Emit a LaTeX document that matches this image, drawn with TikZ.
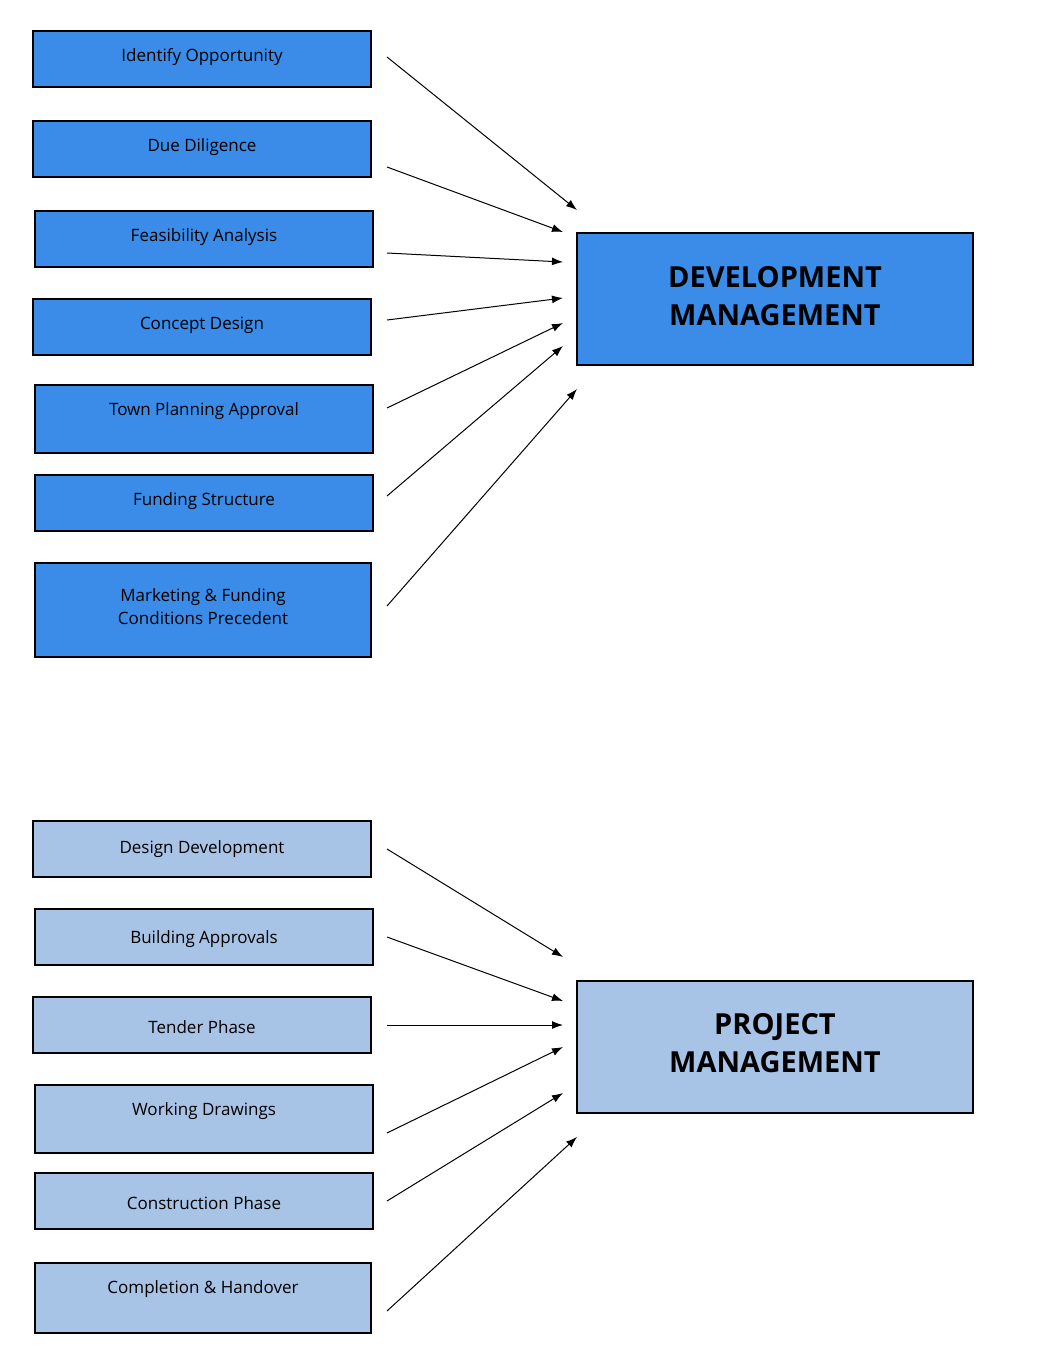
\documentclass[tikz,border=0pt]{standalone}
\usepackage{fontspec}
\setmainfont{Open Sans}
\usetikzlibrary{arrows.meta}
\definecolor{dk}{HTML}{3B8BE8}
\definecolor{lt}{HTML}{A7C3E6}
\tikzset{
 box/.style={draw=black,line width=1.2pt,inner sep=0pt},
 lab/.style={font=\fontsize{17}{23}\selectfont,align=center},
 big/.style={font=\bfseries\fontsize{29}{38}\selectfont,align=center},
 arr/.style={-{Latex[length=11pt,width=8pt]},line width=1pt}
}
\begin{document}
\begin{tikzpicture}[x=1pt,y=-1pt]
\useasboundingbox (0,0) rectangle (1062,1358);
\newcommand{\bx}[7]{\node[box,fill=#6,minimum width=#3-#2,minimum height=#5-#4] (#1) at ({(#2+#3)/2},{(#4+#5)/2}) {};
\node[lab] (#1t) at ({(#2+#3)/2},#7) {#6text};}
% dark boxes
\foreach \n/\a/\b/\c/\d/\ty/\t in {
 a/33/371/31/87/57/Identify Opportunity,
 b/33/371/121/177/147/Due Diligence,
 c/35/373/211/267/237/Feasibility Analysis,
 d/33/371/299/355/325/Concept Design,
 e/35/373/385/453/411/Town Planning Approval,
 f/35/373/475/531/501/Funding Structure}{
 \node[box,fill=dk,minimum width=\b-\a,minimum height=\d-\c] (\n) at ({(\a+\b)/2},{(\c+\d)/2}) {};
 \node[lab] (\n t) at ({(\a+\b)/2},\ty) {\t};
}
\node[box,fill=dk,minimum width=336,minimum height=94] (g) at (203,610) {};
\node[lab] (gt) at (203,607) {Marketing \& Funding\\Conditions Precedent};
\node[box,fill=dk,minimum width=396,minimum height=132] (DM) at (775,299) {};
\node[big] (DMt) at (775,296) {DEVELOPMENT\\MANAGEMENT};
% light boxes
\foreach \n/\a/\b/\c/\d/\ty/\t in {
 p/33/371/821/877/849/Design Development,
 q/35/373/909/965/939/Building Approvals,
 r/33/371/997/1053/1027/Tender Phase,
 s/35/373/1085/1153/1111/Working Drawings,
 u/35/373/1173/1229/1203/Construction Phase,
 v/35/371/1263/1333/1289/Completion \& Handover}{
 \node[box,fill=lt,minimum width=\b-\a,minimum height=\d-\c] (\n) at ({(\a+\b)/2},{(\c+\d)/2}) {};
 \node[lab] (\n t) at ({(\a+\b)/2},\ty) {\t};
}
\node[box,fill=lt,minimum width=396,minimum height=132] (PM) at (775,1047) {};
\node[big] (PMt) at (775,1043) {PROJECT\\MANAGEMENT};
% arrows
\foreach \i/\sy/\ex/\ey in {1/57/577/210,2/167/563/232,3/253/563/262,4/320/563/298,5/408/563/323,6/496/563/346,7/606/577/389,
 8/849/563/957,9/937/563/1001,10/1025/563/1025,11/1133/563/1047,12/1201/563/1093,13/1311/577/1137}{
 \coordinate (s\i) at (387,\sy);
 \coordinate (e\i) at (\ex,\ey);
 \draw[arr] (s\i) -- (e\i);
}
\end{tikzpicture}
\end{document}
